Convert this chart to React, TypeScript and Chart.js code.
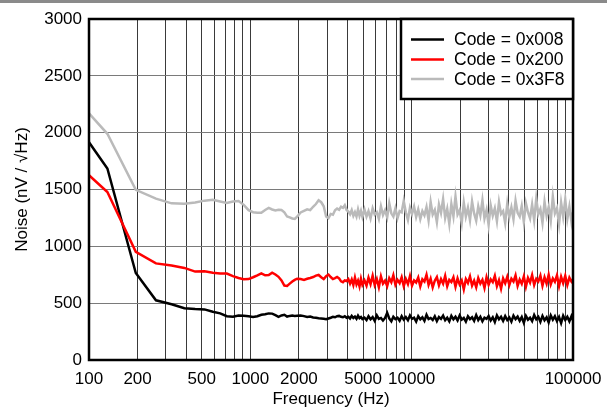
import { useEffect, useRef } from 'react';
import { Chart, registerables } from 'chart.js';

Chart.register(...registerables);

// ---- Frequencies (Hz) ----
const FREQ_LOW = [100, 130, 195, 260, 325, 390, 455, 520, 585, 650, 715, 780, 845, 910, 975, 1040, 1105, 1170, 1235, 1300, 1365, 1430, 1495, 1560, 1625, 1690, 1755, 1820, 1885, 1950];
const FREQ_MID = [2050, 2150, 2250, 2350, 2450, 2550, 2650, 2750, 2850, 2950, 3050, 3150, 3250, 3350, 3450, 3550, 3650, 3750, 3850, 3950, 4050, 4150, 4250, 4350, 4450, 4550, 4650, 4750, 4850, 4950];
const FREQ_HIGH = [
  5100, 5250, 5400, 5560, 5730, 5900, 6080, 6260, 6450, 6640,
  6840, 7050, 7260, 7480, 7700, 7930, 8170, 8420, 8670, 8930,
  9200, 9480, 9760, 10050, 10350, 10660, 10980, 11310, 11650, 12000,
  12360, 12730, 13110, 13500, 13910, 14330, 14760, 15200, 15660, 16130,
  16610, 17110, 17620, 18150, 18690, 19250, 19830, 20430, 21040, 21670,
  22320, 22990, 23680, 24390, 25120, 25870, 26650, 27450, 28270, 29120,
  29990, 30890, 31820, 32770, 33760, 34770, 35810, 36880, 37990, 39130,
  40300, 41510, 42760, 44040, 45360, 46720, 48120, 49570, 51060, 52590,
  54170, 55790, 57460, 59190, 60960, 62790, 64680, 66620, 68620, 70670,
  72790, 74980, 77230, 79540, 81930, 84390, 86920, 89530, 92210, 94980,
  97830, 100000,
];

// ---- Code = 0x008 (nV/√Hz) ----
const C008_LOW = [1915, 1685, 765, 525, 490, 455, 448, 445, 425, 410, 385, 380, 392, 390, 385, 378, 385, 398, 402, 410, 408, 395, 380, 392, 398, 382, 388, 392, 388, 390];
const C008_MID = [392, 386, 378, 382, 374, 372, 368, 366, 362, 358, 365, 372, 380, 376, 385, 388, 380, 376, 385, 372, 380, 365, 388, 370, 382, 362, 390, 368, 378, 360];
const C008_HIGH = [
  372, 352, 385, 358, 378, 345, 392, 362, 370, 348,
  370, 414, 365, 340, 380, 360, 372, 345, 385, 355,
  378, 350, 392, 362, 372, 338, 386, 358, 376, 345,
  398, 360, 370, 352, 385, 342, 378, 362, 390, 350,
  372, 340, 388, 358, 380, 348, 392, 355, 370, 338,
  385, 360, 376, 345, 395, 352, 380, 340, 372, 362,
  388, 348, 376, 335, 392, 358, 380, 345, 386, 352,
  374, 338, 390, 360, 382, 345, 378, 328, 388, 355,
  372, 342, 395, 358, 380, 336, 388, 350, 376, 330,
  392, 355, 385, 342, 378, 325, 390, 352, 380, 340,
  386, 350,
];

// ---- Code = 0x200 ----
const C200_LOW = [1625, 1478, 952, 850, 832, 810, 778, 780, 768, 762, 760, 738, 722, 710, 712, 728, 745, 762, 745, 748, 768, 752, 732, 700, 655, 652, 672, 690, 705, 715];
const C200_MID = [712, 705, 715, 722, 730, 742, 748, 728, 712, 738, 752, 730, 712, 720, 730, 718, 692, 684, 700, 695, 712, 672, 708, 660, 725, 665, 698, 648, 715, 662];
const C200_HIGH = [
  700, 655, 725, 668, 742, 660, 712, 640, 735, 672,
  698, 650, 720, 685, 745, 662, 705, 676, 728, 650,
  712, 668, 738, 655, 700, 682, 725, 648, 710, 690,
  750, 662, 715, 640, 698, 730, 658, 712, 672, 740,
  650, 705, 686, 728, 645, 718, 665, 700, 622, 712,
  678, 735, 655, 698, 640, 720, 672, 705, 635, 728,
  662, 710, 685, 740, 650, 702, 628, 718, 675, 732,
  660, 715, 690, 745, 652, 708, 670, 735, 645, 722,
  682, 748, 660, 715, 692, 742, 655, 728, 672, 750,
  665, 718, 688, 745, 650, 732, 676, 740, 660, 725,
  690, 712,
];

// ---- Code = 0x3F8 ----
const C3F8_LOW = [2170, 1990, 1497, 1420, 1378, 1374, 1385, 1402, 1410, 1395, 1382, 1395, 1398, 1365, 1318, 1300, 1296, 1295, 1320, 1338, 1324, 1316, 1322, 1320, 1300, 1262, 1255, 1245, 1242, 1262];
const C3F8_MID = [1298, 1312, 1325, 1318, 1348, 1372, 1405, 1388, 1352, 1262, 1248, 1285, 1278, 1318, 1332, 1322, 1348, 1338, 1362, 1320, 1305, 1282, 1318, 1268, 1300, 1262, 1325, 1270, 1312, 1258];
const C3F8_HIGH = [
  1325, 1262, 1310, 1245, 1335, 1280, 1300, 1242, 1352, 1275,
  1318, 1255, 1380, 1290, 1262, 1335, 1248, 1310, 1300, 1400,
  1300, 1232, 1340, 1285, 1350, 1258, 1325, 1240, 1310, 1272,
  1345, 1228, 1390, 1280, 1320, 1212, 1368, 1295, 1415, 1250,
  1330, 1198, 1372, 1265, 1438, 1280, 1318, 1205, 1385, 1262,
  1340, 1230, 1395, 1290, 1225, 1352, 1272, 1405, 1245, 1320,
  1190, 1362, 1270, 1335, 1222, 1390, 1285, 1310, 1205, 1375,
  1258, 1342, 1238, 1402, 1295, 1262, 1355, 1215, 1380, 1300,
  1245, 1368, 1230, 1420, 1282, 1328, 1208, 1392, 1268, 1345,
  1225, 1440, 1290, 1335, 1195, 1385, 1260, 1412, 1240, 1350,
  1215, 1300,
];

// ---- Axes ----
const X_GRID = [100, 200, 300, 400, 500, 600, 700, 800, 900, 1000, 2000, 3000, 4000, 5000, 6000, 7000, 8000, 9000, 10000, 20000, 30000, 40000, 50000, 60000, 70000, 80000, 90000, 100000];
const X_LABELS = [100, 200, 500, 1000, 2000, 5000, 10000, 100000];
const Y_MIN = 0;
const Y_MAX = 3000;
const Y_STEP = 500;

const SERIES_NAMES = ['Code = 0x008', 'Code = 0x200', 'Code = 0x3F8'];
const SERIES_COLORS = ['#000000', '#ff0000', '#bababa'];

const FONT = '"Liberation Sans", Arial, sans-serif';

export default function App() {
  const ref = useRef<HTMLCanvasElement>(null);

  useEffect(() => {
    if (!ref.current) return;
    const freqs = [...FREQ_LOW, ...FREQ_MID, ...FREQ_HIGH];
    const series = [
      [...C008_LOW, ...C008_MID, ...C008_HIGH],
      [...C200_LOW, ...C200_MID, ...C200_HIGH],
      [...C3F8_LOW, ...C3F8_MID, ...C3F8_HIGH],
    ];
    const datasets = series
      .map((vals, i) => ({
        label: SERIES_NAMES[i],
        data: freqs.map((f, j) => ({ x: f, y: vals[j] })),
        borderColor: SERIES_COLORS[i],
        backgroundColor: SERIES_COLORS[i],
        borderWidth: 2.5,
        pointRadius: 0,
        tension: 0,
        fill: false,
      }))
      .reverse();

    const framePlugin = {
      id: 'frameLegend',
      beforeDraw(chart: any) {
        const ctx = chart.ctx;
        ctx.save();
        ctx.fillStyle = '#ffffff';
        ctx.fillRect(0, 0, chart.width, chart.height);
        ctx.fillStyle = '#8a8a8a';
        ctx.fillRect(0, 0, chart.width, 3);
        ctx.restore();
      },
      afterDraw(chart: any) {
        const ctx = chart.ctx;
        const a = chart.chartArea;
        ctx.save();
        ctx.strokeStyle = '#000';
        ctx.lineWidth = 2.5;
        ctx.strokeRect(a.left, a.top, a.right - a.left, a.bottom - a.top);
        // legend
        const lw = 172;
        const lh = 80;
        const lx = a.right - lw;
        const ly = a.top;
        ctx.fillStyle = '#fff';
        ctx.fillRect(lx, ly, lw, lh);
        ctx.strokeRect(lx, ly, lw, lh);
        ctx.font = `17.5px ${FONT}`;
        ctx.textBaseline = 'middle';
        ctx.textAlign = 'left';
        const rows = [20.5, 40.5, 60];
        SERIES_NAMES.forEach((name, i) => {
          const y = ly + rows[i];
          ctx.strokeStyle = SERIES_COLORS[i];
          ctx.lineWidth = 2.5;
          ctx.beginPath();
          ctx.moveTo(lx + 10, y);
          ctx.lineTo(lx + 43, y);
          ctx.stroke();
          ctx.fillStyle = '#000';
          ctx.fillText(name, lx + 53, y + 1);
        });
        ctx.restore();
      },
    };

    const chart = new Chart(ref.current, {
      type: 'line',
      data: { datasets },
      options: {
        animation: false,
        responsive: false,
        devicePixelRatio: 1,
        layout: { padding: { top: 19, right: 34, bottom: 0, left: 0 } },
        plugins: { legend: { display: false }, tooltip: { enabled: false } },
        scales: {
          x: {
            type: 'logarithmic',
            min: 100,
            max: 100000,
            afterBuildTicks: (scale: any) => {
              scale.ticks = X_GRID.map((v) => ({ value: v }));
            },
            afterFit: (scale: any) => {
              scale.height = 51;
              scale.paddingLeft = 0;
              scale.paddingRight = 0;
            },
            ticks: {
              autoSkip: false,
              maxRotation: 0,
              minRotation: 0,
              padding: 9,
              color: '#000',
              font: { family: FONT, size: 17 },
              callback: (value: any) => (X_LABELS.includes(Number(value)) ? String(value) : ''),
            },
            grid: { color: '#3a3a3a', lineWidth: 1, drawTicks: false },
            border: { display: false },
            title: {
              display: true,
              text: 'Frequency (Hz)',
              color: '#000',
              font: { family: FONT, size: 17 },
              padding: { top: 0, bottom: 1 },
            },
          },
          y: {
            type: 'linear',
            min: Y_MIN,
            max: Y_MAX,
            afterFit: (scale: any) => {
              scale.width = 89;
              scale.paddingTop = 0;
              scale.paddingBottom = 0;
            },
            ticks: {
              stepSize: Y_STEP,
              padding: 7,
              color: '#000',
              font: { family: FONT, size: 17 },
              callback: (value: any) => String(value),
            },
            grid: { color: '#7a7a7a', lineWidth: 1, drawTicks: false },
            border: { display: false },
            title: {
              display: true,
              text: 'Noise (nV / \u221AHz)',
              color: '#000',
              font: { family: FONT, size: 17 },
              padding: { top: 12, bottom: 0 },
            },
          },
        },
      },
      plugins: [framePlugin],
    } as any);
    return () => chart.destroy();
  }, []);

  return (
    <div style={{ position: 'fixed', left: 0, top: 0, width: 607, height: 411, background: '#fff' }}>
      <canvas ref={ref} width={607} height={411} style={{ display: 'block', width: 607, height: 411 }} />
    </div>
  );
}
